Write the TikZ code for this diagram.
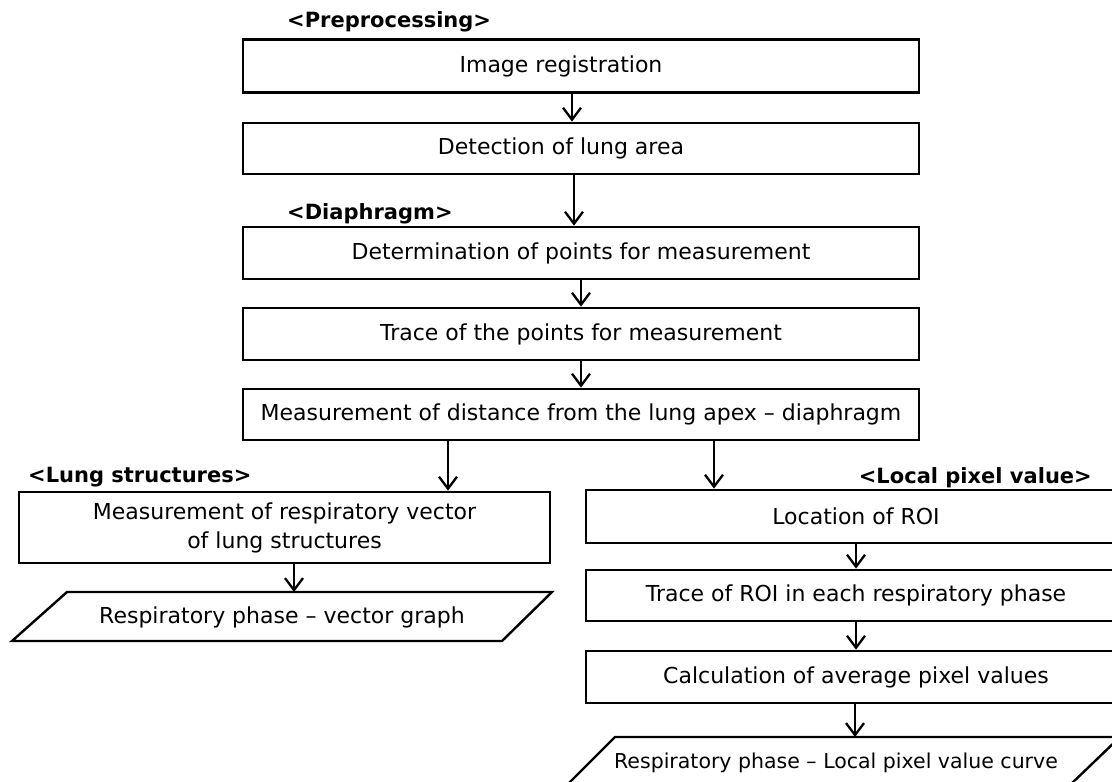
\documentclass[tikz,border=0pt]{standalone}
\usepackage{fontspec}
\setmainfont{DejaVu Sans}
\usetikzlibrary{arrows.meta}
\begin{document}
\begin{tikzpicture}[x=1pt,y=-1pt,
  box/.style={draw, line width=2.7pt, inner sep=0pt, font=\fontsize{22}{29}\selectfont},
  lab/.style={font=\bfseries\fontsize{21}{24}\selectfont, inner sep=0pt},
  ptext/.style={inner sep=0pt, font=\fontsize{22}{26}\selectfont},
  arr/.style={line width=2.3pt, -{Straight Barb[length=12pt,width=18pt]}},
  para/.style={draw, line width=2.4pt, line join=miter}]
\useasboundingbox (0,0) rectangle (1112,782);
\clip (0,0) rectangle (1112,782);
% section labels
\node[lab, anchor=west] (lpre) at (287,22) {<Preprocessing>};
\node[lab, anchor=west] (ldia) at (287,214) {<Diaphragm>};
\node[lab, anchor=west] (llung) at (28,477) {<Lung structures>};
\node[lab, anchor=east] (lloc) at (1092,478) {<Local pixel value>};
% main column
\node[box, minimum width=676pt, minimum height=52.5pt] (b1) at (581,66) {\hspace*{-40pt}Image registration};
\node[box, minimum width=676pt, minimum height=51pt] (b2) at (581,148.5) {\hspace*{-40pt}Detection of lung area};
\node[box, minimum width=676pt, minimum height=52pt] (b3) at (581,253) {Determination of points for measurement};
\node[box, minimum width=676pt, minimum height=52pt] (b4) at (581,334) {Trace of the points for measurement};
\node[box, minimum width=676pt, minimum height=51pt] (b5) at (581,414.5) {Measurement of distance from the lung apex – diaphragm};
% left branch
\node[box, minimum width=531pt, minimum height=71pt, align=center] (lung) at (284.5,527.5) {Measurement of respiratory vector\\of lung structures};
\draw[para] (67,592) -- (552,592) -- (502,641) -- (12,641) -- cycle;
\node[ptext] (lp) at (282,617) {Respiratory phase – vector graph};
\coordinate (lptop) at (294,592);
% right branch
\node[box, minimum width=540pt, minimum height=53pt] (roi) at (856,516.5) {Location of ROI};
\node[box, minimum width=540pt, minimum height=51pt] (troi) at (856,595.5) {Trace of ROI in each respiratory phase};
\node[box, minimum width=540pt, minimum height=52pt] (calc) at (856,677) {Calculation of average pixel values};
\draw[para] (615,737) -- (1120,737) -- (1069,786) -- (566,786) -- cycle;
\node[ptext, font=\fontsize{20.5}{24}\selectfont] (rp) at (836,763) {Respiratory phase – Local pixel value curve};
\coordinate (rptop) at (855,737);
% connectors
\draw[arr] ([xshift=-9pt]b1.south) -- ([xshift=-9pt]b2.north);
\draw[arr] ([xshift=-7pt]b2.south) -- ([xshift=-7pt]b3.north);
\draw[arr] (b3.south) -- (b4.north);
\draw[arr] (b4.south) -- (b5.north);
\draw[arr] ([xshift=-133pt]b5.south) -- ([xshift=-133pt]b5.south |- lung.north);
\draw[arr] ([xshift=133pt]b5.south) -- ([xshift=133pt]b5.south |- roi.north);
\draw[arr] (lptop |- lung.south) -- (lptop);
\draw[arr] (roi.south) -- (troi.north);
\draw[arr] (troi.south) -- (calc.north);
\draw[arr] (rptop |- calc.south) -- (rptop);
\end{tikzpicture}
\end{document}
